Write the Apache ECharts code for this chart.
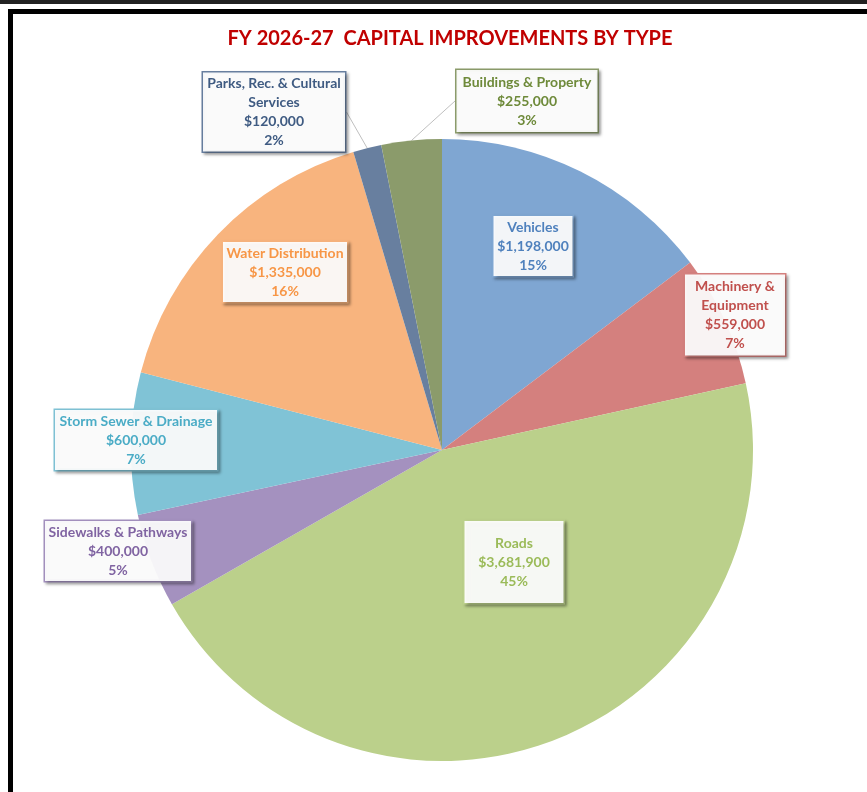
<!DOCTYPE html>
<html>
<head>
<meta charset="utf-8">
<title>FY 2026-27 Capital Improvements by Type</title>
<script src="https://cdn.jsdelivr.net/npm/echarts@6/dist/echarts.min.js"></script>
<style>
  html, body { margin: 0; padding: 0; background: #fff; }
  #chart { width: 867px; height: 792px; }
</style>
</head>
<body>
<div id="chart"></div>
<script>
// data
const categories = [
  'Vehicles', 'Machinery &\nEquipment', 'Roads', 'Sidewalks & Pathways',
  'Storm Sewer & Drainage', 'Water Distribution', 'Parks, Rec. & Cultural\nServices',
  'Buildings & Property'
];
const amounts = [1198000, 559000, 3681900, 400000, 600000, 1335000, 120000, 255000];

// slice colours and label text colours
const sliceColors = ['#7fa6d2', '#d4807e', '#bbd08b', '#a491bf', '#80c3d6', '#f8b47e', '#687f9f', '#8b9b6b'];
const textColors = ['#4f81bd', '#c0504d', '#9bbb59', '#8064a2', '#4bacc6', '#f79646', '#3f5b82', '#6e8a3a'];

// label box centres (x, y) and box layout: [content width, padding vertical]
const labelCenters = [[533, 246], [735, 315], [514, 562], [118, 551], [136, 440], [285, 272], [274, 112], [527, 101]];
const labelBoxes = [[71, 1], [92, 2], [91, 12], [138, 1], [154, 1], [116, 1], [134, 1], [133, 2]];
const outsideLabels = [6, 7];

const fontFamily = 'Lato, "Open Sans", sans-serif';

const chart = echarts.init(document.getElementById('chart'));

const seriesData = categories.map((name, i) => ({
  name: name,
  value: amounts[i],
  itemStyle: { color: sliceColors[i] },
  label: {
    color: textColors[i],
    borderColor: sliceColors[i],
    width: labelBoxes[i][0],
    padding: [labelBoxes[i][1] + 1, 4, labelBoxes[i][1], 4]
  },
  labelLine: { show: outsideLabels.indexOf(i) >= 0 }
}));

chart.setOption({
  animation: false,
  title: {
    text: 'FY 2026-27  CAPITAL IMPROVEMENTS BY TYPE',
    left: 445,
    textAlign: 'center',
    top: 24,
    textStyle: { color: '#c00000', fontSize: 20, fontWeight: 'bold', fontFamily: fontFamily }
  },
  graphic: [
    { type: 'rect', shape: { x: 0, y: 0, width: 867, height: 4 }, style: { fill: '#222' } },
    { type: 'rect', shape: { x: 8, y: 9, width: 859, height: 5 }, style: { fill: '#000' } },
    { type: 'rect', shape: { x: 8, y: 9, width: 5, height: 783 }, style: { fill: '#000' } }
  ],
  series: [{
    type: 'pie',
    center: [442, 450],
    radius: 311,
    startAngle: 90,
    clockwise: true,
    percentPrecision: 0,
    avoidLabelOverlap: false,
    emphasis: { disabled: true },
    data: seriesData,
    label: {
      show: true,
      position: 'outside',
      fontFamily: fontFamily,
      fontSize: 14,
      fontWeight: 'bold',
      lineHeight: 19,
      align: 'center',
      overflow: 'none',
      backgroundColor: 'rgba(255,255,255,0.93)',
      borderWidth: 1.5,
      shadowColor: 'rgba(0,0,0,0.3)',
      shadowBlur: 3,
      shadowOffsetX: 2,
      shadowOffsetY: 2,
      formatter: p => p.name + '\n$' + p.value.toLocaleString('en-US') + '\n' + p.percent + '%'
    },
    labelLine: {
      length: 10,
      length2: 0,
      lineStyle: { color: '#bfbfbf', width: 1 }
    },
    labelLayout: p => ({
      x: labelCenters[p.dataIndex][0],
      y: labelCenters[p.dataIndex][1],
      align: 'center',
      verticalAlign: 'middle'
    })
  }]
});
</script>
</body>
</html>
